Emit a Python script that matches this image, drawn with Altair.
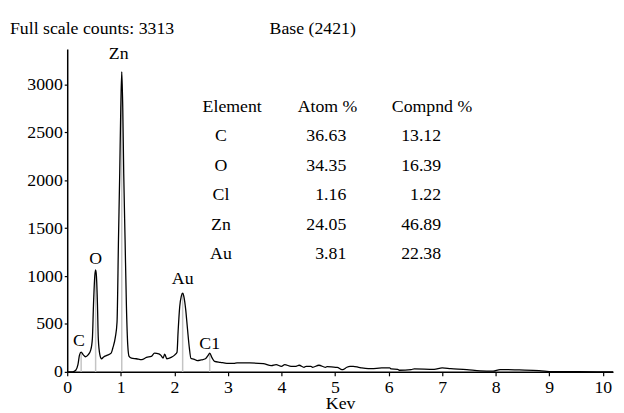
import altair as alt
import pandas as pd

FONT = "'Liberation Serif', 'Times New Roman', Times, 'DejaVu Serif', serif"

# Spectrum (keV, counts)
kev = [0.0, 0.10, 0.16, 0.20, 0.23, 0.26, 0.30, 0.34, 0.39, 0.44, 0.47, 0.49, 0.515, 0.53, 0.545,
       0.565, 0.58, 0.61, 0.64, 0.68, 0.74, 0.82, 0.85, 0.90, 0.93, 0.957, 0.98, 1.0, 1.018, 1.037,
       1.055, 1.08, 1.105, 1.13, 1.155, 1.20, 1.29, 1.39, 1.48, 1.57, 1.63, 1.71, 1.75, 1.79, 1.82,
       1.86, 1.94, 2.01, 2.05, 2.07, 2.10, 2.13, 2.155, 2.18, 2.21, 2.245, 2.28, 2.31, 2.36, 2.43,
       2.50, 2.58, 2.63, 2.66, 2.70, 2.75, 2.86, 2.98, 3.11, 3.17, 3.41, 3.66, 3.81, 3.90, 4.0,
       4.06, 4.18, 4.27, 4.33, 4.42, 4.46, 4.55, 4.58, 4.70, 4.82, 4.85, 5.01, 5.04, 5.13, 5.16,
       5.22, 5.28, 5.34, 5.44, 5.50, 5.62, 5.68, 5.87, 6.02, 6.05, 6.17, 6.20, 6.42, 6.48, 6.85,
       7.0, 7.16, 7.46, 7.71, 7.95, 8.08, 8.44, 8.81, 9.06, 9.55, 10.19]
counts = [0, 0, 17, 75, 178, 206, 178, 158, 178, 230, 350, 694, 1003, 1065, 1003,
          694, 350, 178, 137, 155, 172, 196, 247, 368, 520, 1381, 2068, 2755, 3133, 2755,
          2068, 1381, 694, 281, 162, 144, 137, 127, 151, 162, 196, 189, 172, 144, 185,
          137, 151, 178, 206, 420, 680, 790, 821, 780, 660, 450, 250, 140, 134, 117,
          124, 137, 172, 196, 151, 110, 100, 89, 89, 93, 93, 86, 65, 75, 58,
          75, 58, 58, 69, 48, 58, 58, 48, 69, 48, 55, 48, 48, 24, 27,
          48, 58, 58, 48, 41, 34, 34, 41, 41, 31, 27, 17, 24, 31, 27,
          41, 34, 24, 10, 7, 24, 20, 14, 3, 2, 0]

# Peak markers
peak_x = [0.26, 0.53, 1.018, 2.155, 2.66]
peak_top = [206, 1065, 3133, 821, 196]
peak_label = ["C", "O", "Zn", "Au", "C1"]
label_x = [0.22, 0.53, 0.96, 2.155, 2.66]
label_y = [321, 1175, 3316, 969, 292]

# Composition table
elements = ["C", "O", "Cl", "Zn", "Au"]
atom_pct = ["36.63", "34.35", "1.16", "24.05", "3.81"]
compnd_pct = ["13.12", "16.39", "1.22", "46.89", "22.38"]
row_y = [2461, 2152, 1843, 1534, 1226]
header_y = 2770

x_ticks = list(range(0, 11))
y_ticks = [0, 500, 1000, 1500, 2000, 2500, 3000]

xs = alt.Scale(domain=[0, 10.19], nice=False, zero=False)
ys = alt.Scale(domain=[0, 3370], nice=False)

spec = pd.DataFrame({"kev": kev, "counts": counts})
peaks = pd.DataFrame({"x": peak_x, "top": peak_top, "base": [0] * len(peak_x)})
labels = pd.DataFrame({"x": label_x, "y": label_y, "t": peak_label})
table = pd.DataFrame({"el": elements, "atom": atom_pct, "comp": compnd_pct, "y": row_y})
headers = pd.DataFrame({"x": [3.08, 4.86, 6.81], "y": [header_y] * 3,
                        "t": ["Element", "Atom %", "Compnd %"]})

base_x_axis = alt.Axis(values=x_ticks, tickSize=4, labelPadding=3, title="Kev", titlePadding=-2,
                       grid=False, labelFlush=False, format="d")
base_y_axis = alt.Axis(values=y_ticks, tickSize=3, labelPadding=2, title=None, grid=False,
                       format="d")

rules = alt.Chart(peaks).mark_rule(color="#c4c4c4", strokeWidth=1.5).encode(
    x=alt.X("x:Q", scale=xs, axis=base_x_axis),
    y=alt.Y("base:Q", scale=ys, axis=base_y_axis),
    y2="top:Q",
)

line = alt.Chart(spec).mark_line(color="black", strokeWidth=1.3, interpolate="monotone").encode(
    x=alt.X("kev:Q", scale=xs),
    y=alt.Y("counts:Q", scale=ys),
)

txt = dict(font=FONT, fontSize=18, color="black")

peak_text = alt.Chart(labels).mark_text(baseline="middle", align="center", **txt).encode(
    x=alt.X("x:Q", scale=xs), y=alt.Y("y:Q", scale=ys), text="t:N")

head_text = alt.Chart(headers).mark_text(baseline="middle", align="center", **txt).encode(
    x=alt.X("x:Q", scale=xs), y=alt.Y("y:Q", scale=ys), text="t:N")

el_text = alt.Chart(table).mark_text(baseline="middle", align="center", **txt).encode(
    x=alt.datum(2.87, scale=xs), y=alt.Y("y:Q", scale=ys), text="el:N")

atom_text = alt.Chart(table).mark_text(baseline="middle", align="right", **txt).encode(
    x=alt.datum(5.21, scale=xs), y=alt.Y("y:Q", scale=ys), text="atom:N")

comp_text = alt.Chart(table).mark_text(baseline="middle", align="right", **txt).encode(
    x=alt.datum(6.98, scale=xs), y=alt.Y("y:Q", scale=ys), text="comp:N")

top_left = alt.Chart(pd.DataFrame({"t": ["Full scale counts: 3313"]})).mark_text(
    baseline="middle", align="left", **txt).encode(
    x=alt.value(-58), y=alt.value(-20), text="t:N")

top_mid = alt.Chart(pd.DataFrame({"t": ["Base (2421)"]})).mark_text(
    baseline="middle", align="left", **txt).encode(
    x=alt.value(205), y=alt.value(-20), text="t:N")

chart = alt.layer(rules, line, peak_text, head_text, el_text, atom_text, comp_text,
                  top_left, top_mid).properties(
    width=553, height=327,
    autosize=alt.AutoSizeParams(type="none"),
    padding={"left": 60, "top": 39, "right": 3, "bottom": 38},
    background="white",
).configure_view(stroke=None).configure_axis(
    labelFont=FONT, labelFontSize=18, labelColor="black",
    titleFont=FONT, titleFontSize=18, titleFontWeight="normal", titleColor="black",
    domainColor="black", domainWidth=1.5, tickColor="black", tickWidth=1.2,
)

chart.save("out.html", embed_options={"renderer": "svg", "actions": False})
